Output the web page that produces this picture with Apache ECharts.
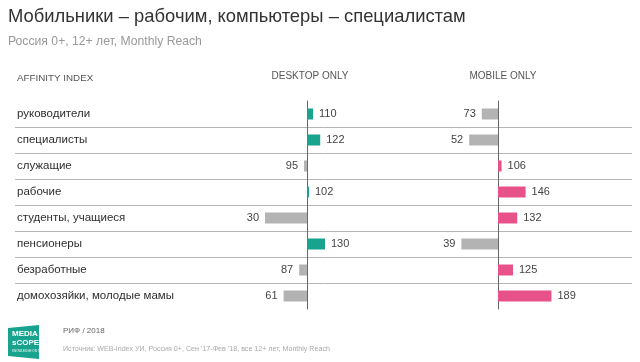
<!DOCTYPE html>
<html><head><meta charset="utf-8">
<script src="https://cdn.jsdelivr.net/npm/echarts@6/dist/echarts.min.js"></script>
<style>html,body{margin:0;padding:0;background:#fff}#c{width:640px;height:362px}</style>
</head><body><div id="c"></div>
<script>
const categories = ['руководители','специалисты','служащие','рабочие','студенты, учащиеся','пенсионеры','безработные','домохозяйки, молодые мамы'];
const desktopValues = [110,122,95,102,30,130,87,61];
const mobileValues = [73,52,106,146,132,39,125,189];
const baseValue = 100;
const titleText = 'Мобильники – рабочим, компьютеры – специалистам';
const subtitleText = 'Россия 0+, 12+ лет, Monthly Reach';
const columnHeaders = ['AFFINITY INDEX','DESKTOP ONLY','MOBILE ONLY'];
const footerTexts = ['РИФ / 2018','Источник: WEB-Index УИ, Россия 0+, Сен \u201917-Фев \u201918, все 12+ лет, Monthly Reach'];

const TEAL = '#17a38d', PINK = '#e8528a', GRAY = '#b3b3b3';
const FONT = 'Arial, "Liberation Sans", sans-serif';

function items(arr, pos) {
  return arr.map(v => ({
    value: v - baseValue,
    itemStyle: { color: v >= baseValue ? pos : GRAY },
    label: { position: v >= baseValue ? 'right' : 'left' }
  }));
}

const chart = echarts.init(document.getElementById('c'));
const gTop = 101, gH = 208;
chart.setOption({
  animation: false,
  textStyle: { fontFamily: FONT },
  title: [
    { text: titleText, left: 3, top: 3, textStyle: { fontSize: 18.4, fontWeight: 'normal', color: '#333', fontFamily: FONT } },
    { text: subtitleText, left: 3, top: 31, textStyle: { fontSize: 12.2, fontWeight: 'normal', color: '#999', fontFamily: FONT } },
    { text: columnHeaders[0], left: 12, top: 68, textStyle: { fontSize: 9.8, fontWeight: 'normal', color: '#555', fontFamily: FONT } },
    { text: columnHeaders[1], left: 305, textAlign: 'center', top: 66, textStyle: { fontSize: 10, fontWeight: 'normal', color: '#555', fontFamily: FONT } },
    { text: columnHeaders[2], left: 498, textAlign: 'center', top: 66, textStyle: { fontSize: 10, fontWeight: 'normal', color: '#555', fontFamily: FONT } },
    { text: footerTexts[0], left: 58, top: 322, textStyle: { fontSize: 8, fontWeight: 'normal', color: '#666', fontFamily: FONT } },
    { text: footerTexts[1], left: 58, top: 341, textStyle: { fontSize: 7.1, fontWeight: 'normal', color: '#aaa', fontFamily: FONT } }
  ],
  grid: [
    { left: 15, top: gTop, width: 617, height: gH },
    { left: 247, top: gTop, width: 120, height: gH },
    { left: 438, top: gTop, width: 120, height: gH }
  ],
  xAxis: [
    { gridIndex: 0, type: 'value', min: 0, max: 1, show: false },
    { gridIndex: 1, type: 'value', min: -100, max: 100, show: false },
    { gridIndex: 2, type: 'value', min: -100, max: 100, show: false }
  ],
  yAxis: [
    { gridIndex: 0, type: 'category', inverse: true, data: categories,
      axisLine: { show: false }, axisTick: { show: false },
      axisLabel: { inside: true, margin: 2, color: '#2e2e2e', fontSize: 11.5, fontFamily: FONT },
      splitLine: { show: true, showMinLine: false, showMaxLine: false, lineStyle: { color: '#b5b5b5', width: 1 } } },
    { gridIndex: 1, type: 'category', inverse: true, data: categories,
      axisLine: { show: true, onZero: true, lineStyle: { color: '#666', width: 1 } }, axisTick: { show: false }, axisLabel: { show: false }, splitLine: { show: false } },
    { gridIndex: 2, type: 'category', inverse: true, data: categories,
      axisLine: { show: true, onZero: true, lineStyle: { color: '#666', width: 1 } }, axisTick: { show: false }, axisLabel: { show: false }, splitLine: { show: false } }
  ],
  series: [
    { type: 'bar', xAxisIndex: 1, yAxisIndex: 1, barWidth: 11, barMinHeight: 2, data: items(desktopValues, TEAL),
      label: { show: true, distance: 6, color: '#444', fontSize: 11, fontFamily: FONT, formatter: p => desktopValues[p.dataIndex] } },
    { type: 'bar', xAxisIndex: 2, yAxisIndex: 2, barWidth: 11, barMinHeight: 2, data: items(mobileValues, PINK),
      label: { show: true, distance: 6, color: '#444', fontSize: 11, fontFamily: FONT, formatter: p => mobileValues[p.dataIndex] } }
  ],
  graphic: [
    { type: 'polygon', shape: { points: [[8,328],[39,325],[39,359],[8,356]] }, style: { fill: TEAL } },
    { type: 'text', left: 12, top: 330, style: { text: 'MEDIA', fill: '#fff', font: 'bold 8px "Liberation Sans Narrow", sans-serif' } },
    { type: 'text', left: 12, top: 339, style: { text: 'sCOPE', fill: '#fff', font: 'bold 8px "Liberation Sans Narrow", sans-serif' } },
    { type: 'text', left: 12, top: 350, style: { text: 'KNOWLEDGE ON TIME', fill: '#fff', font: '3px sans-serif' } }
  ]
});
</script></body></html>
